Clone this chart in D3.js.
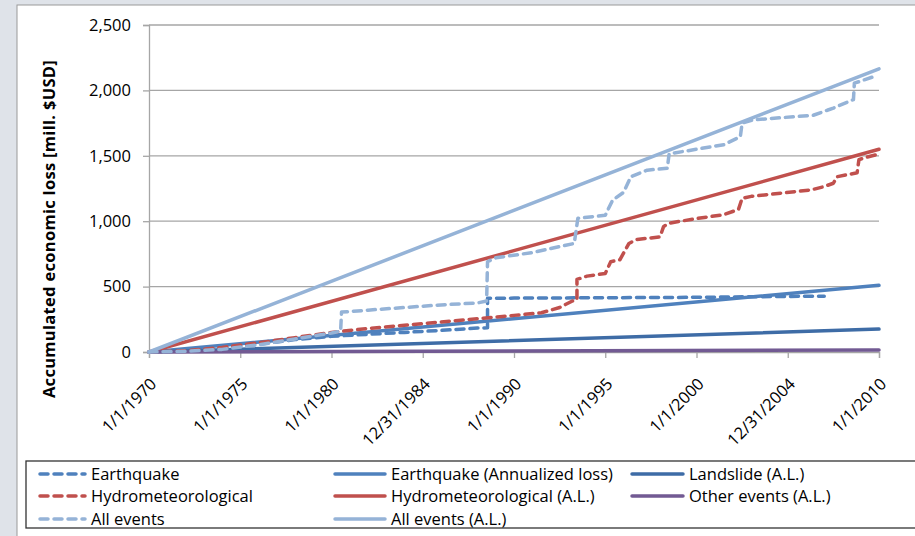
<!DOCTYPE html>
<html>
<head>
<meta charset="utf-8">
<script src="https://cdn.jsdelivr.net/npm/d3@7"></script>
<style>
  body { margin: 0; background: #dfe3e9; }
  text { font-family: "Open Sans", Lato, sans-serif; fill: #000; }
</style>
</head>
<body>
<svg id="chart" width="915" height="536"></svg>
<script>
// x axis ticks (years) and their labels as printed
const xTickYears = [1970, 1975, 1980, 1985, 1990, 1995, 2000, 2005, 2010];
const xTickLabels = ["1/1/1970", "1/1/1975", "1/1/1980", "12/31/1984", "1/1/1990",
                     "1/1/1995", "1/1/2000", "12/31/2004", "1/1/2010"];
const yTicks = [0, 500, 1000, 1500, 2000, 2500];

// accumulated losses (step-like)
const eqYears = [1970, 1972, 1974, 1976, 1978, 1980, 1982, 1984, 1986, 1988, 1988.55, 1988.55,
                 1990, 1995, 2000, 2005, 2007];
const eqLoss = [0, 5, 25, 60, 95, 120, 135, 150, 165, 183, 185, 410, 412, 415, 418, 425, 427];

const hyYears = [1970, 1972, 1974, 1976, 1978, 1980, 1982, 1984, 1986, 1988, 1990, 1991.5, 1992.5,
                 1993.2, 1993.45, 1993.45, 1994, 1995, 1995.3, 1995.8, 1996.3, 1996.7, 1998.0,
                 1998.2, 1998.5, 2000, 2001.5, 2002.3, 2002.5, 2003, 2006.3, 2007, 2007.5,
                 2007.7, 2008.8, 2008.9, 2009.2, 2009.9];
const hyLoss = [0, 10, 35, 70, 110, 150, 180, 205, 230, 255, 280, 300, 340, 390, 400, 555, 580,
                600, 690, 705, 830, 860, 880, 960, 985, 1020, 1050, 1090, 1175, 1190, 1240, 1265,
                1290, 1340, 1370, 1470, 1485, 1510];

const allYears = [1970, 1972, 1974, 1976, 1978, 1980, 1980.5, 1980.55, 1982, 1984, 1986, 1988,
                  1988.5, 1988.55, 1989, 1991, 1993.3, 1993.5, 1995, 1995.4, 1996, 1996.4, 1997.3,
                  1998.4, 1998.5, 2000, 2001.5, 2002.4, 2002.5, 2003.1, 2006.4, 2007.2, 2007.5,
                  2008.6, 2008.65, 2009.7, 2009.9];
const allLoss = [0, 5, 20, 55, 100, 145, 160, 305, 320, 340, 360, 375, 390, 690, 720, 760, 830,
                 1022, 1045, 1160, 1220, 1340, 1390, 1405, 1515, 1550, 1585, 1646, 1750, 1775,
                 1810, 1850, 1865, 1930, 2055, 2105, 2115];

// annualized loss lines
const alYears = [1970, 2010];
const eqAL = [0, 510];
const landslideAL = [0, 175];
const hyAL = [0, 1550];
const otherAL = [0, 15];
const allAL = [0, 2165];

const zip = (xs, ys) => xs.map((x, i) => [x, ys[i]]);

// order as excel draws it (and as legend is read row by row)
const series = [
  {label: "Earthquake", pts: zip(eqYears, eqLoss), color: "#4f81bd", dash: true},
  {label: "Earthquake (Annualized loss)", pts: zip(alYears, eqAL), color: "#4f81bd", dash: false},
  {label: "Landslide (A.L.)", pts: zip(alYears, landslideAL), color: "#3e6ca6", dash: false},
  {label: "Hydrometeorological", pts: zip(hyYears, hyLoss), color: "#c0504d", dash: true},
  {label: "Hydrometeorological (A.L.)", pts: zip(alYears, hyAL), color: "#c0504d", dash: false},
  {label: "Other events (A.L.)", pts: zip(alYears, otherAL), color: "#725a93", dash: false},
  {label: "All events", pts: zip(allYears, allLoss), color: "#95b3d7", dash: true},
  {label: "All events (A.L.)", pts: zip(alYears, allAL), color: "#95b3d7", dash: false}
];

const svg = d3.select("#chart");

// chart area frame
svg.append("rect")
  .attr("x", 17).attr("y", 5).attr("width", 910).attr("height", 540)
  .attr("fill", "#fff").attr("stroke", "#9a9a9a").attr("stroke-width", 1);

const x = d3.scaleLinear().domain([1970, 2010]).range([149, 879]);
const y = d3.scaleLinear().domain([0, 2500]).range([352, 25]);

// gridlines
svg.append("g")
  .selectAll("line")
  .data(yTicks.slice(1))
  .enter().append("line")
    .attr("x1", x(1970)).attr("x2", x(2010))
    .attr("y1", d => y(d)).attr("y2", d => y(d))
    .attr("stroke", "#a6a6a6").attr("stroke-width", 1.3);

// y axis
const yAxis = svg.append("g")
  .attr("transform", `translate(${x(1970)},0)`)
  .call(d3.axisLeft(y).tickValues(yTicks).tickSize(6).tickPadding(12)
    .tickFormat(d3.format(",")));
yAxis.select(".domain").attr("stroke", "#a6a6a6").attr("stroke-width", 1.3);
yAxis.selectAll(".tick line").attr("stroke", "#a6a6a6").attr("stroke-width", 1.3);
yAxis.selectAll("text").attr("font-size", 16.5).attr("font-family", "'Open Sans', sans-serif");

// x axis
const xAxis = svg.append("g")
  .attr("transform", `translate(0,${y(0)})`)
  .call(d3.axisBottom(x).tickValues(xTickYears).tickSize(6)
    .tickFormat((d, i) => xTickLabels[i]));
xAxis.select(".domain").attr("stroke", "#a6a6a6").attr("stroke-width", 1.3);
xAxis.selectAll(".tick line").attr("stroke", "#a6a6a6").attr("stroke-width", 1.3);
xAxis.selectAll("text")
  .attr("font-size", 16.5).attr("font-family", "'Open Sans', sans-serif")
  .attr("text-anchor", "end")
  .attr("dy", null).attr("y", null)
  .attr("transform", "translate(8,33) rotate(-45)");

// y axis title
svg.append("text")
  .attr("transform", `translate(55,229) rotate(-90)`)
  .attr("text-anchor", "middle")
  .attr("font-size", 16.5).attr("font-weight", "bold")
  .attr("letter-spacing", 0.3)
  .text("Accumulated economic loss [mill. $USD]");

// lines
const line = d3.line().x(d => x(d[0])).y(d => y(d[1]));

svg.append("g")
  .selectAll("path")
  .data(series)
  .enter().append("path")
    .attr("d", d => line(d.pts))
    .attr("fill", "none")
    .attr("stroke", d => d.color)
    .attr("stroke-width", 3.5)
    .attr("stroke-linecap", "round")
    .attr("stroke-linejoin", "round")
    .attr("stroke-dasharray", d => d.dash ? "8,6" : null);

// legend
const legend = svg.append("g");
legend.append("rect")
  .attr("x", 26).attr("y", 461).attr("width", 900).attr("height", 67)
  .attr("fill", "#fff").attr("stroke", "#333").attr("stroke-width", 1.3);

const colX = [40, 335, 632];
const colW = [45, 50, 51];
const rowY = [474, 496, 519];

const item = legend.selectAll("g.item")
  .data(series)
  .enter().append("g")
    .attr("class", "item")
    .attr("transform", (d, i) => {
      const col = i % 3, row = Math.floor(i / 3);
      return `translate(${colX[col]},${rowY[row]})`;
    });

item.append("line")
  .attr("x1", 0).attr("x2", (d, i) => colW[i % 3])
  .attr("y1", 0).attr("y2", 0)
  .attr("stroke", d => d.color)
  .attr("stroke-width", 3.5)
  .attr("stroke-linecap", "round")
  .attr("stroke-dasharray", d => d.dash ? "8,6" : null);

item.append("text")
  .attr("x", (d, i) => colW[i % 3] + 6)
  .attr("y", 0).attr("dy", "0.35em")
  .attr("font-size", 16.5)
  .text(d => d.label);
</script>
</body>
</html>
